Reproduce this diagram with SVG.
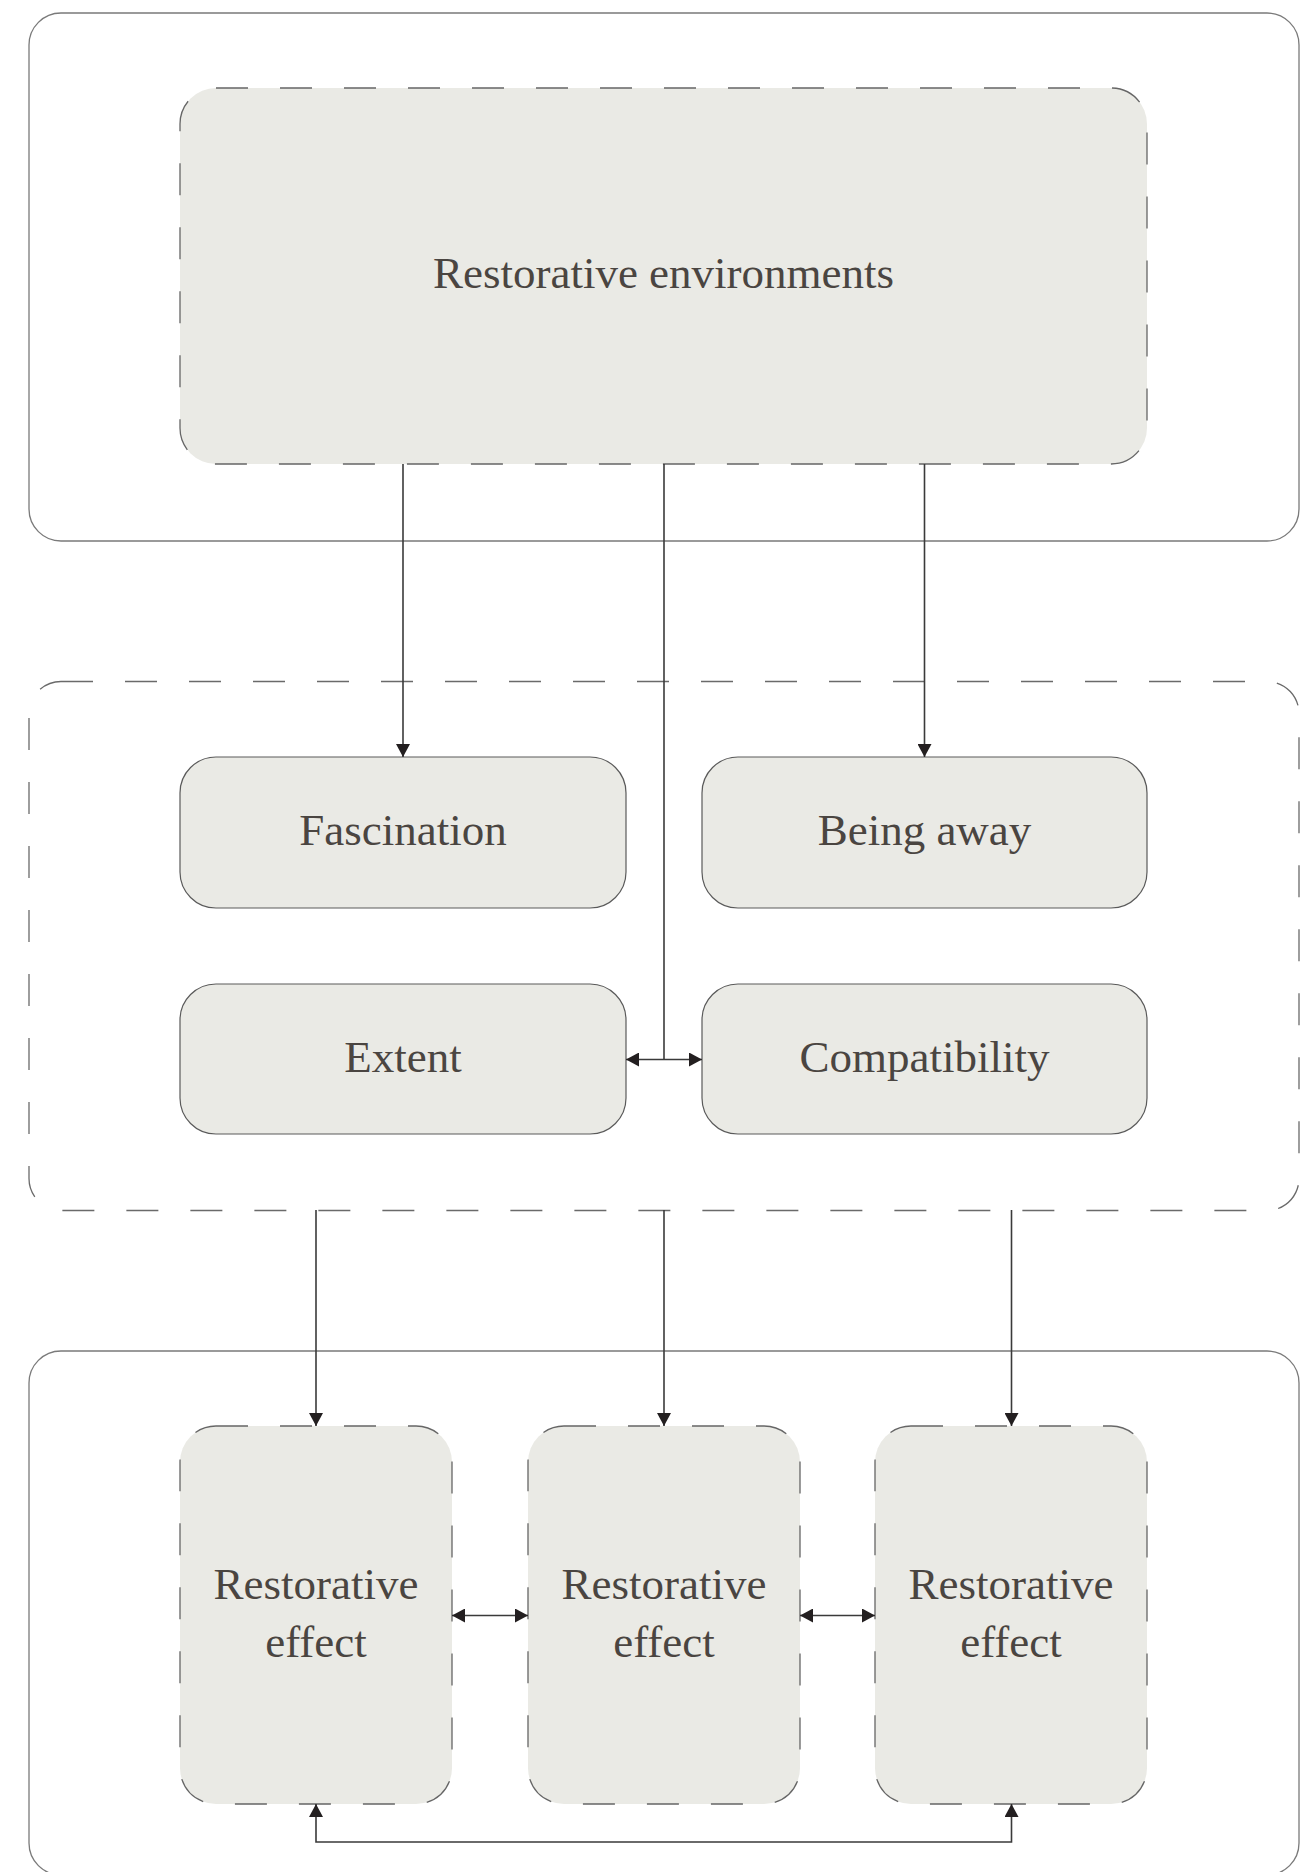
<svg xmlns="http://www.w3.org/2000/svg" width="1307" height="1872" viewBox="0 0 1307 1872">
<defs>
<style>
.container{fill:none;stroke:#7a7a7a;stroke-width:1.3}
.container-dash{fill:none;stroke:#6a6a6a;stroke-width:1.3;stroke-dasharray:32 32}
.node{fill:#eaeae5;stroke:#5a5a5a;stroke-width:1.2}
.node-dash{fill:#eaeae5;stroke:#666;stroke-width:1.3;stroke-dasharray:32 32}
.label{font-family:"Liberation Serif","Times New Roman",serif;font-size:45px;fill:#4a4541;text-anchor:middle}
.conn{fill:none;stroke:#3a3a3a;stroke-width:1.6}
</style>
<marker id="arr" viewBox="0 0 13 14" refX="13" refY="7" markerWidth="13" markerHeight="14" markerUnits="userSpaceOnUse" orient="auto-start-reverse">
<path d="M0,0 L13,7 L0,14 z" fill="#231f20"/>
</marker>
</defs>
<rect width="1307" height="1872" fill="#ffffff"/>

<g id="containers">
<rect id="group-top" class="container" x="29" y="13" width="1270" height="528" rx="32" ry="32"/>
<rect id="group-middle" class="container-dash" x="29" y="681.5" width="1270" height="529" rx="32" ry="32"/>
<rect id="group-bottom" class="container" x="29" y="1351" width="1270" height="524" rx="32" ry="32"/>
</g>

<g id="node-environments">
<rect class="node-dash" x="180" y="88" width="967" height="376" rx="36" ry="36"/>
<text class="label" x="663.5" y="288">Restorative environments</text>
</g>

<g id="node-fascination">
<rect class="node" x="180" y="757" width="446" height="151" rx="36" ry="36"/>
<text class="label" x="403" y="845">Fascination</text>
</g>

<g id="node-being-away">
<rect class="node" x="702" y="757" width="445" height="151" rx="36" ry="36"/>
<text class="label" x="924.5" y="845">Being away</text>
</g>

<g id="node-extent">
<rect class="node" x="180" y="984" width="446" height="150" rx="36" ry="36"/>
<text class="label" x="403" y="1072">Extent</text>
</g>

<g id="node-compatibility">
<rect class="node" x="702" y="984" width="445" height="150" rx="36" ry="36"/>
<text class="label" x="924.5" y="1072">Compatibility</text>
</g>

<g id="node-effect-1">
<rect class="node-dash" x="180" y="1426" width="272" height="378" rx="36" ry="36"/>
<text class="label" x="316" y="1599">Restorative</text>
<text class="label" x="316" y="1657">effect</text>
</g>

<g id="node-effect-2">
<rect class="node-dash" x="528" y="1426" width="272" height="378" rx="36" ry="36"/>
<text class="label" x="664" y="1599">Restorative</text>
<text class="label" x="664" y="1657">effect</text>
</g>

<g id="node-effect-3">
<rect class="node-dash" x="875" y="1426" width="272" height="378" rx="36" ry="36"/>
<text class="label" x="1011" y="1599">Restorative</text>
<text class="label" x="1011" y="1657">effect</text>
</g>

<g id="connectors">
<path class="conn" d="M403,464 V757" marker-end="url(#arr)"/>
<path class="conn" d="M924.5,464 V757" marker-end="url(#arr)"/>
<path class="conn" d="M664,464 V1059.5"/>
<path class="conn" d="M626,1059.5 H702" marker-start="url(#arr)" marker-end="url(#arr)"/>
<path class="conn" d="M316,1210 V1426" marker-end="url(#arr)"/>
<path class="conn" d="M664,1210 V1426" marker-end="url(#arr)"/>
<path class="conn" d="M1011.5,1210 V1426" marker-end="url(#arr)"/>
<path class="conn" d="M452,1615.5 H528" marker-start="url(#arr)" marker-end="url(#arr)"/>
<path class="conn" d="M800,1615.5 H875" marker-start="url(#arr)" marker-end="url(#arr)"/>
<path class="conn" d="M316,1804 V1842 H1011.5 V1804" marker-start="url(#arr)" marker-end="url(#arr)"/>
</g>
</svg>
